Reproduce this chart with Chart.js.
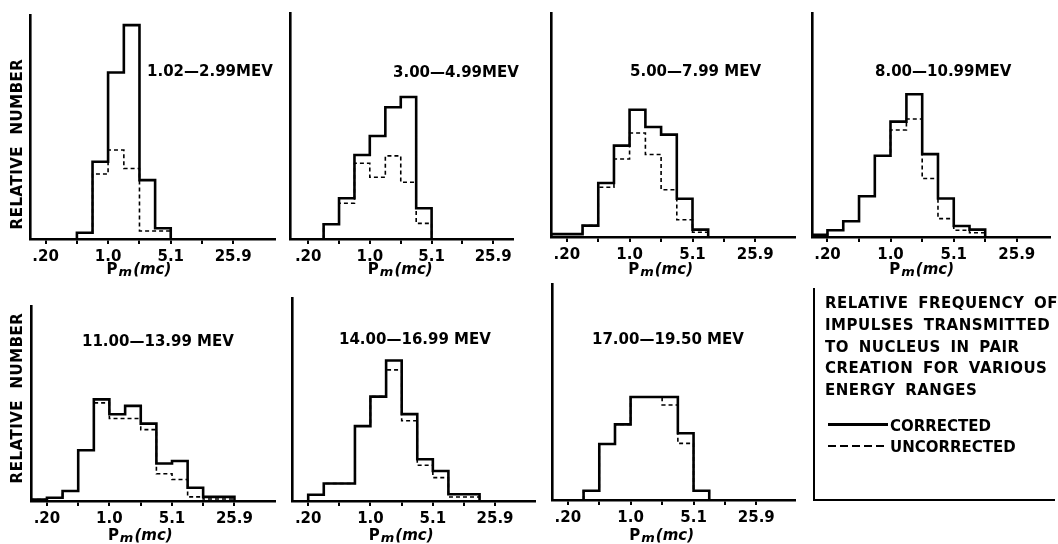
<!DOCTYPE html>
<html>
<head>
<meta charset="utf-8">
<title>Relative frequency of impulses transmitted to nucleus</title>
<script src="https://cdn.jsdelivr.net/npm/chart.js@4.4.1/dist/chart.umd.min.js"></script>
<style>
    body { margin: 0; background: #fff; }
    #page { position: relative; width: 1058px; height: 544px; overflow: hidden; background: #fff; }
    #page canvas { position: absolute; left: 0; top: 0; }
    #note {
        position: absolute; left: 813px; top: 288px; width: 240px; height: 211px;
        border-left: 2.5px solid #000; border-bottom: 2.5px solid #000;
        font: bold 15px "DejaVu Sans", sans-serif; color: #000;
    }
    #note .lines { position: absolute; left: 10px; top: 5px; line-height: 21.8px; word-spacing: 4px; letter-spacing: 0.5px; white-space: nowrap; }
    #note .key { position: absolute; left: 13px; white-space: nowrap; line-height: 20px; }
    #note .sample { display: inline-block; width: 60px; height: 2.5px; vertical-align: middle; margin-right: 2px; position: relative; top: -2px; }
    #note .solid { background: #000; }
    #note .dashed { height: 2px; background: repeating-linear-gradient(90deg, #000 0 8px, transparent 8px 12px); }
</style>
</head>
<body>
<div id="page">
    <div id="note">
        <div class="lines">
            RELATIVE FREQUENCY OF<br>
            IMPULSES TRANSMITTED<br>
            TO NUCLEUS IN PAIR<br>
            CREATION FOR VARIOUS<br>
            ENERGY RANGES
        </div>
        <div class="key" style="top:128px"><span class="sample solid"></span>CORRECTED</div>
        <div class="key" style="top:149px"><span class="sample dashed"></span>UNCORRECTED</div>
    </div>
</div>
<script>
// bin edges of the impulse P_m in units of mc (each bin is a factor 1.5 wide)
const binEdges = [0.133, 0.20, 0.30, 0.45, 0.675, 1.01, 1.52, 2.28, 3.42, 5.13, 7.69, 11.5, 17.3, 25.9];
const tickValues = [0.20, 0.45, 1.01, 2.28, 5.13, 11.5, 25.9];
const tickLabels = ['.20', '', '1.0', '', '5.1', '', '25.9'];

const energyRanges = ['1.02\u20142.99MEV', '3.00\u20144.99MEV', '5.00\u20147.99 MEV', '8.00\u201410.99MEV',
                      '11.00\u201413.99 MEV', '14.00\u201416.99 MEV', '17.00\u201419.50 MEV'];

// relative number per bin (one value per bin of binEdges)
const corrected1   = [0, 0, 0, 2.8, 34.5, 74.3, 95.5, 26.3, 4.8, 0, 0, 0, 0];
const uncorrected1 = [0, 0, 0, 2.8, 29.0, 39.7, 31.5, 3.6, 3.6, 0, 0, 0, 0];
const corrected2   = [0, 0, 6.5, 18.0, 37.2, 45.6, 58.3, 62.8, 13.6, 0, 0, 0, 0];
const uncorrected2 = [0, 0, 6.5, 15.8, 33.5, 27.3, 36.8, 25.1, 6.9, 0, 0, 0, 0];
const corrected3   = [1.3, 1.3, 5.1, 24.1, 40.8, 56.8, 49.1, 45.7, 17.1, 3.3, 0, 0, 0];
const uncorrected3 = [1.3, 1.3, 5.1, 22.2, 34.8, 46.4, 36.8, 21.1, 7.7, 2.1, 0, 0, 0];
const corrected4   = [1.0, 3.0, 7.0, 18.2, 36.3, 51.5, 63.7, 37.0, 17.2, 4.9, 3.3, 0, 0];
const uncorrected4 = [1.0, 3.0, 7.0, 18.2, 36.3, 47.8, 52.7, 26.1, 8.2, 3.0, 1.9, 0, 0];
const corrected5   = [0.7, 1.7, 5.1, 26.0, 52.1, 44.5, 48.8, 39.7, 19.2, 20.5, 6.8, 2.1, 2.1];
const uncorrected5 = [0.7, 1.7, 5.1, 26.0, 50.3, 42.3, 42.3, 36.6, 14.0, 11.0, 2.1, 1.0, 1.0];
const corrected6   = [0, 3.1, 8.6, 8.6, 36.9, 51.4, 69.2, 42.8, 20.6, 14.8, 3.3, 3.3, 0];
const uncorrected6 = [0, 3.1, 8.6, 8.6, 36.9, 51.4, 64.6, 39.5, 17.6, 11.5, 2.0, 2.0, 0];
const corrected7   = [0, 0, 4.3, 25.9, 35.0, 47.7, 47.7, 47.7, 30.9, 4.3, 0, 0, 0];
const uncorrected7 = [0, 0, 4.3, 25.9, 35.0, 47.7, 47.7, 44.0, 26.2, 4.3, 0, 0, 0];

const correctedSets = [corrected1, corrected2, corrected3, corrected4, corrected5, corrected6, corrected7];
const uncorrectedSets = [uncorrected1, uncorrected2, uncorrected3, uncorrected4, uncorrected5, uncorrected6, uncorrected7];

// page layout of each panel: plot frame, axis range (in bins from .20), label spots
const panels = [
    { area: [30, 15, 275, 239],  u: [-1.0, 14.67],  label: [147, 72],  titleY: 270, yTitle: [18, 144] },
    { area: [290, 13, 513, 239], u: [-1.18, 13.28], label: [393, 73],  titleY: 270 },
    { area: [551, 13, 795, 237], u: [-1.01, 14.53], label: [630, 72],  titleY: 270 },
    { area: [812, 13, 1050, 237], u: [-0.98, 14.1], label: [875, 72],  titleY: 270 },
    { area: [31, 306, 275, 501], u: [-1.02, 14.59], label: [82, 342],  titleY: 536, yTitle: [18, 398] },
    { area: [292, 298, 535, 501], u: [-1.04, 14.56], label: [339, 340], titleY: 536 },
    { area: [552, 284, 795, 500], u: [-1.01, 14.46], label: [592, 340], titleY: 536 }
];

const FONT = '"DejaVu Sans", sans-serif';

// turn per-bin values into points for a stepped outline
function stepPoints(values) {
    let first = values.findIndex(v => v > 0);
    let last = values.length - 1;
    while (last > first && !(values[last] > 0)) last--;
    const pts = [{ x: binEdges[first], y: 0 }];
    for (let i = first; i <= last; i++) {
        pts.push({ x: binEdges[i], y: values[i] });
    }
    pts.push({ x: binEdges[last + 1], y: 0 });
    return pts;
}

// energy label, axis title and y title drawn on the chart canvas
const panelText = {
    id: 'panelText',
    afterDraw(chart, args, opts) {
        const ctx = chart.ctx;
        const xScale = chart.scales.x;
        ctx.save();
        ctx.fillStyle = '#000';
        ctx.textBaseline = 'middle';
        ctx.textAlign = 'left';
        ctx.font = 'bold 15px ' + FONT;
        ctx.fillText(opts.label, opts.labelX, opts.labelY);

        const parts = [
            { t: 'P', font: 'bold 15px ' + FONT, dy: 0 },
            { t: 'm', font: 'italic bold 13px ' + FONT, dy: 3 },
            { t: '(mc)', font: 'italic bold 15px ' + FONT, dy: 0 }
        ];
        let w = 0;
        parts.forEach(p => { ctx.font = p.font; p.w = ctx.measureText(p.t).width + 1; w += p.w; });
        let x = xScale.getPixelForValue(tickValues[3]) - w / 2;
        parts.forEach(p => {
            ctx.font = p.font;
            ctx.fillText(p.t, x, opts.titleY + p.dy);
            x += p.w;
        });

        if (opts.yTitle) {
            ctx.translate(opts.yTitle[0], opts.yTitle[1]);
            ctx.rotate(-Math.PI / 2);
            ctx.textAlign = 'center';
            ctx.font = 'bold 15px ' + FONT;
            ctx.letterSpacing = '0.5px';
            ctx.fillText('RELATIVE  NUMBER', 0, 0);
        }
        ctx.restore();
    }
};

const page = document.getElementById('page');

panels.forEach((panel, i) => {
    const canvas = document.createElement('canvas');
    canvas.width = 1058;
    canvas.height = 544;
    page.insertBefore(canvas, document.getElementById('note'));

    const [left, top, right, bottom] = panel.area;
    const xAxisHeight = 30;

    new Chart(canvas.getContext('2d'), {
        type: 'line',
        data: {
            datasets: [{
                label: 'CORRECTED',
                data: stepPoints(correctedSets[i]),
                borderColor: '#000',
                borderWidth: 2.6,
                stepped: true,
                pointRadius: 0,
                fill: false
            }, {
                label: 'UNCORRECTED',
                data: stepPoints(uncorrectedSets[i]),
                borderColor: '#000',
                borderWidth: 1.6,
                borderDash: [4, 3],
                stepped: true,
                pointRadius: 0,
                fill: false
            }]
        },
        plugins: [panelText],
        options: {
            responsive: false,
            animation: false,
            events: [],
            layout: {
                padding: { left: left, top: top, right: 1058 - right, bottom: 544 - bottom - xAxisHeight }
            },
            plugins: {
                legend: { display: false },
                tooltip: { enabled: false },
                panelText: {
                    label: energyRanges[i],
                    labelX: panel.label[0],
                    labelY: panel.label[1],
                    titleY: panel.titleY,
                    yTitle: panel.yTitle
                }
            },
            scales: {
                x: {
                    type: 'logarithmic',
                    min: 0.2 * Math.pow(1.5, panel.u[0]),
                    max: 0.2 * Math.pow(1.5, panel.u[1]),
                    afterBuildTicks: scale => { scale.ticks = tickValues.map(v => ({ value: v })); },
                    afterFit: scale => { scale.height = xAxisHeight; },
                    border: { display: true, color: '#000', width: 2.6 },
                    grid: { drawOnChartArea: false, color: '#000', lineWidth: 2, tickLength: 5 },
                    ticks: {
                        autoSkip: false,
                        maxRotation: 0,
                        padding: 4,
                        color: '#000',
                        font: { family: FONT, weight: 'bold', size: 15 },
                        callback: (value, index) => tickLabels[index]
                    }
                },
                y: {
                    type: 'linear',
                    min: 0,
                    max: 100,
                    afterFit: scale => { scale.width = 0; },
                    border: { display: true, color: '#000', width: 2.6 },
                    grid: { display: false },
                    ticks: { display: false }
                }
            }
        }
    });
});
</script>
</body>
</html>
